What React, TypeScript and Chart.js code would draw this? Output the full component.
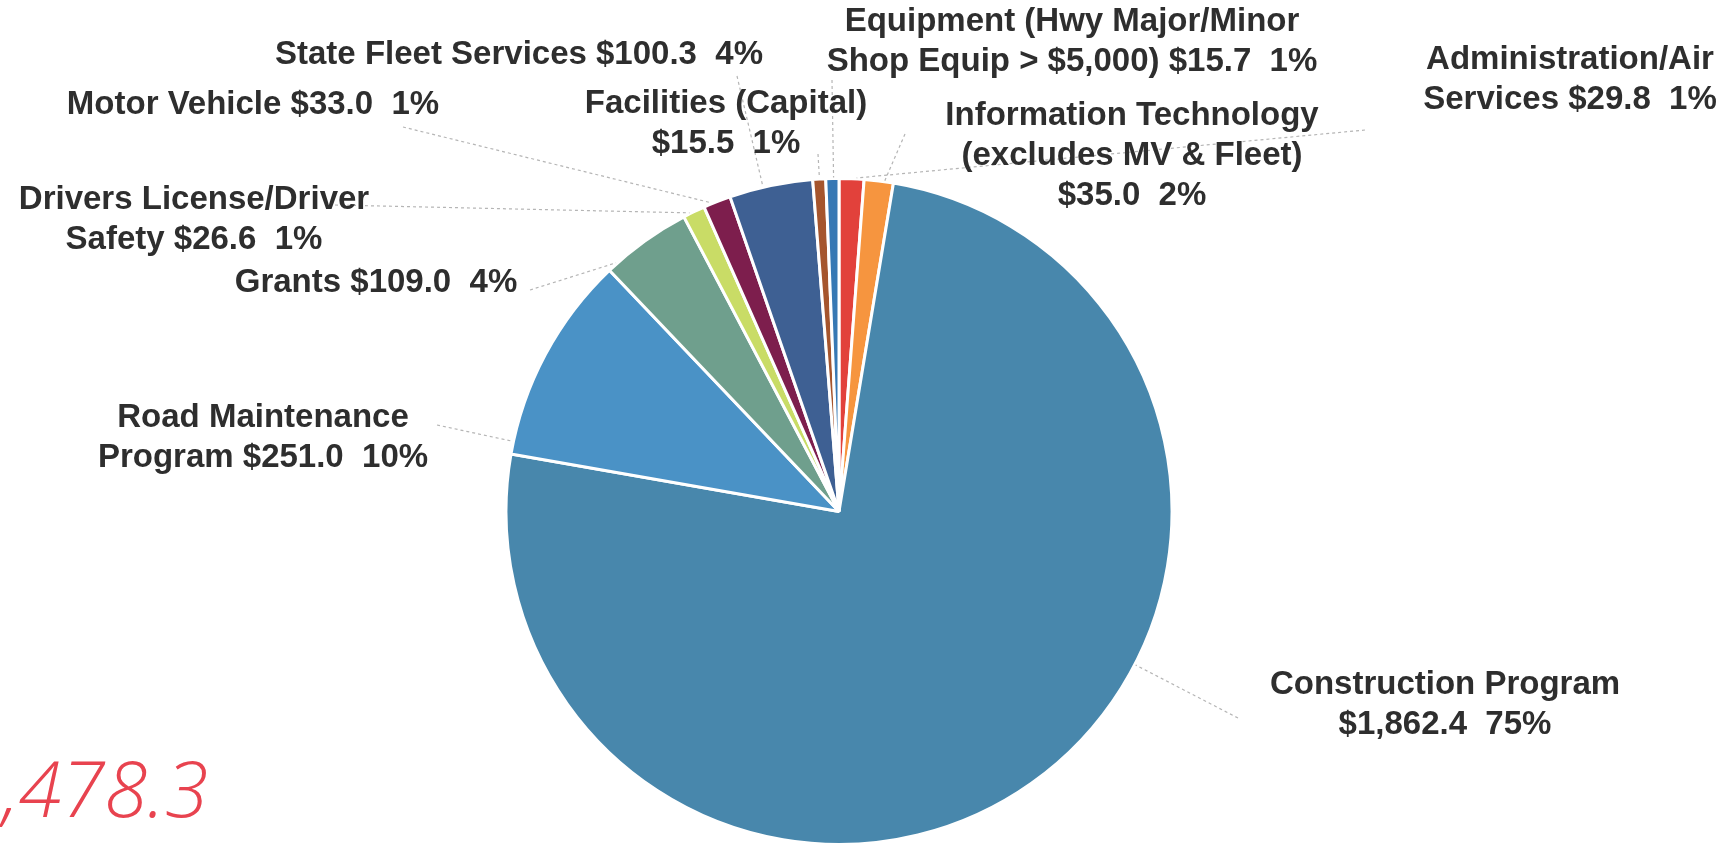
import React, { useEffect, useRef } from "react";
import { Chart, registerables } from "chart.js";

Chart.register(...registerables);

// ---- data (slice order clockwise from 12 o'clock) ----
// "\n" marks a line break in the label; a trailing "\n" puts the value on its own line
const categories = [
  "Administration/Air\nServices",
  "Information Technology\n(excludes MV & Fleet)\n",
  "Construction Program\n",
  "Road Maintenance\nProgram",
  "Grants",
  "Drivers License/Driver\nSafety",
  "Motor Vehicle",
  "State Fleet Services",
  "Facilities (Capital)\n",
  "Equipment (Hwy Major/Minor\nShop Equip > $5,000)",
];
const values = [29.8, 35.0, 1862.4, 251.0, 109.0, 26.6, 33.0, 100.3, 15.5, 15.7];
const percents = [1, 2, 75, 10, 4, 1, 1, 4, 1, 1];
const totalLabel = "2,478.3";

// ---- styles / layout ----
const colors = [
  "#e2413b",
  "#f6953f",
  "#4887ac",
  "#4a92c6",
  "#6f9f8d",
  "#c9dc66",
  "#7d1e4d",
  "#3e6093",
  "#a5552d",
  "#3678b4",
];
// centre of first label line
const labelPos: [number, number][] = [
  [1570, 60],
  [1132, 116],
  [1445, 685],
  [263, 418],
  [376, 283],
  [194, 200],
  [253, 105],
  [519, 55],
  [726, 104],
  [1072, 22],
];
// where the leader line leaves the label
const leaderAnchor: [number, number][] = [
  [1365, 130],
  [905, 134],
  [1238, 718],
  [437, 425],
  [530, 290],
  [335, 205],
  [403, 127],
  [737, 76],
  [818, 154],
  [832, 80],
];
const LINE_H = 40;
const LABEL_FONT = 'bold 33px "Liberation Sans", Arial, sans-serif';

function fmtMoney(v: number) {
  return "$" + v.toLocaleString("en-US", { minimumFractionDigits: 1, maximumFractionDigits: 1 });
}

function labelLines(i: number): string[] {
  const parts = categories[i].split("\n");
  const val = `${fmtMoney(values[i])}  ${percents[i]}%`;
  const last = parts.length - 1;
  if (parts[last] === "") parts[last] = val;
  else parts[last] = parts[last] + " " + val;
  return parts;
}

const labelsPlugin = {
  id: "customLabels",
  afterDraw(chart: any) {
    const ctx: CanvasRenderingContext2D = chart.ctx;
    const meta = chart.getDatasetMeta(0);
    ctx.save();
    // leader lines
    ctx.strokeStyle = "#b5b5b5";
    ctx.lineWidth = 1.2;
    ctx.setLineDash([3, 3]);
    meta.data.forEach((el: any, i: number) => {
      const p = el.getProps(["x", "y", "startAngle", "endAngle", "outerRadius"], true);
      const [ax, ay] = leaderAnchor[i];
      let a = Math.atan2(ay - p.y, ax - p.x);
      while (a < p.startAngle) a += Math.PI * 2;
      while (a > p.startAngle + Math.PI * 2) a -= Math.PI * 2;
      const span = p.endAngle - p.startAngle;
      const d = Math.min(span * 0.3, 0.03);
      if (a > p.endAngle) {
        const toEnd = a - p.endAngle;
        const toStart = p.startAngle + Math.PI * 2 - a;
        a = toEnd < toStart ? p.endAngle - d : p.startAngle + d;
      } else {
        a = Math.min(Math.max(a, p.startAngle + d), p.endAngle - d);
      }
      const r = p.outerRadius + 1;
      const ex = p.x + Math.cos(a) * r;
      const ey = p.y + Math.sin(a) * r;
      ctx.beginPath();
      ctx.moveTo(ax, ay);
      ctx.lineTo(ex, ey);
      ctx.stroke();
    });
    ctx.setLineDash([]);
    // labels
    ctx.fillStyle = "#2e2e2e";
    ctx.font = LABEL_FONT;
    ctx.textAlign = "center";
    ctx.textBaseline = "middle";
    categories.forEach((_, i) => {
      const lines = labelLines(i);
      const [lx, ly] = labelPos[i];
      lines.forEach((t, k) => ctx.fillText(t, lx, ly + k * LINE_H));
    });
    // total
    ctx.fillStyle = "#e8434f";
    ctx.font = 'italic 300 78px "Open Sans", "Noto Sans", sans-serif';
    ctx.textAlign = "right";
    ctx.textBaseline = "alphabetic";
    ctx.fillText(totalLabel, 208, 817);
    ctx.restore();
  },
};

export default function App() {
  const ref = useRef<HTMLCanvasElement | null>(null);
  useEffect(() => {
    document.body.style.margin = "0";
    document.body.style.overflow = "hidden";
    document.body.style.background = "#ffffff";
    if (!ref.current) return;
    const chart = new Chart(ref.current, {
      type: "pie",
      data: {
        labels: categories.map((c) => c.replace(/\n/g, " ").trim()),
        datasets: [
          {
            data: values,
            backgroundColor: colors,
            borderColor: "#ffffff",
            borderWidth: 3,
          },
        ],
      },
      options: {
        responsive: false,
        animation: false,
        devicePixelRatio: 1,
        layout: { padding: { top: 177, bottom: 2, left: 504, right: 561 } },
        plugins: {
          legend: { display: false },
          tooltip: { enabled: false },
        },
      },
      plugins: [labelsPlugin],
    });
    return () => chart.destroy();
  }, []);
  return (
    <div style={{ position: "absolute", left: 0, top: 0, width: 1735, height: 848, background: "#fff" }}>
      <canvas ref={ref} width={1735} height={848} style={{ width: 1735, height: 848, display: "block" }} />
    </div>
  );
}
